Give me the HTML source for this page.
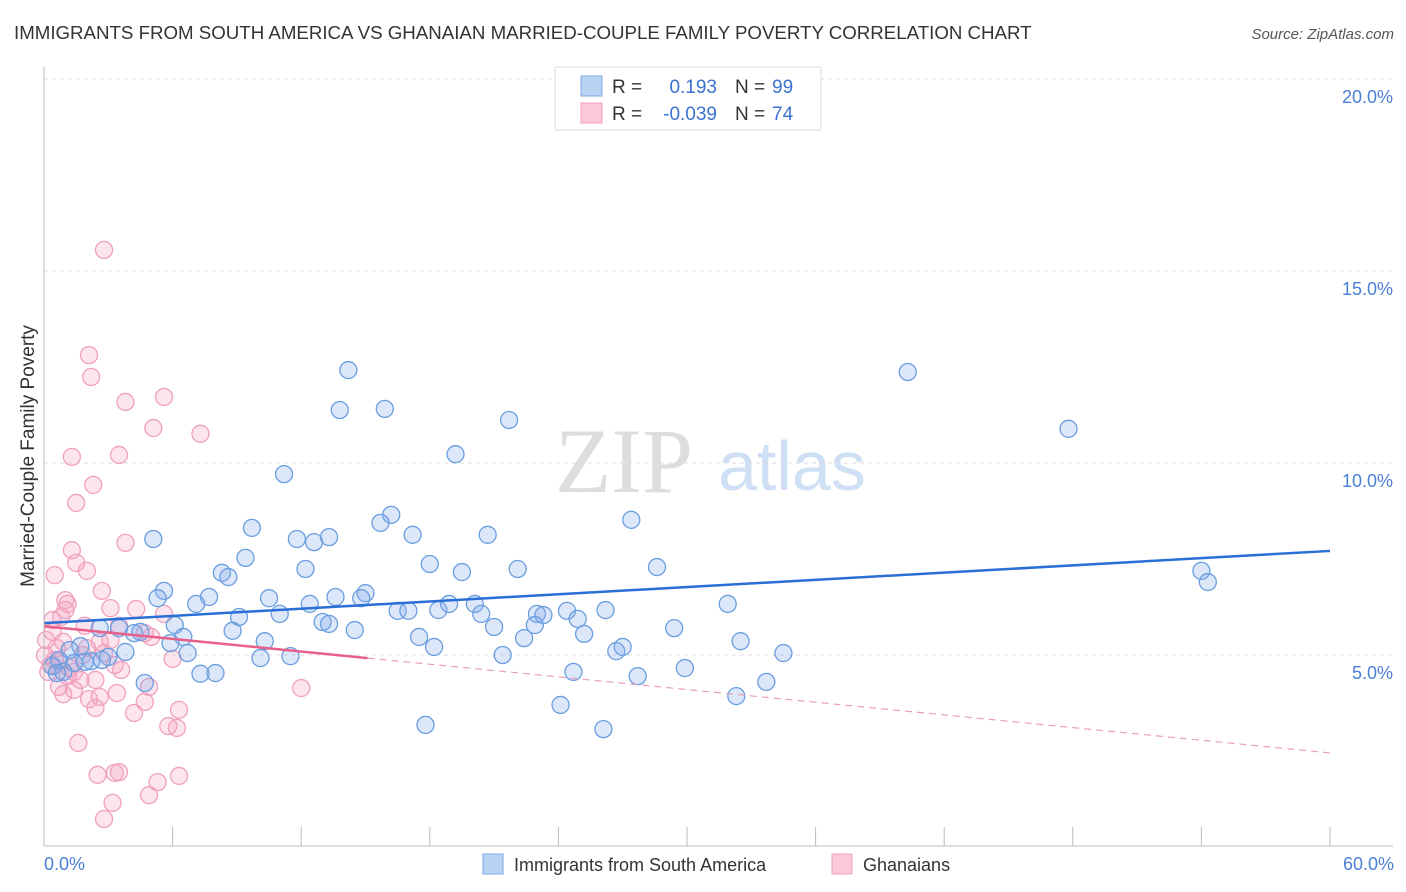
<!DOCTYPE html>
<html><head><meta charset="utf-8"><style>
body{margin:0;background:#fff;width:1406px;height:892px;overflow:hidden;font-family:"Liberation Sans",sans-serif}
</style></head><body>
<svg id="chart" width="1406" height="892" style="position:absolute;left:0;top:0;font-family:'Liberation Sans',sans-serif">
<text x="14" y="39" font-size="18.7" fill="#333">IMMIGRANTS FROM SOUTH AMERICA VS GHANAIAN MARRIED-COUPLE FAMILY POVERTY CORRELATION CHART</text>
<text x="1394" y="39" font-size="15" fill="#555" font-style="italic" text-anchor="end">Source: ZipAtlas.com</text>
<text x="0" y="0" font-size="19" fill="#333" text-anchor="middle" transform="translate(34,456) rotate(-90)">Married-Couple Family Poverty</text>
<text x="555" y="492" font-size="92" fill="#ddd" font-family="Liberation Serif,serif">ZIP</text>
<text x="718" y="490" font-size="70" fill="#cfe0f4">atlas</text>
<g id="grid"></g><g id="pts"></g><g id="lines"></g>
<line x1="44" y1="67" x2="44" y2="846" stroke="#bbb"/>
<line x1="44" y1="846" x2="1393" y2="846" stroke="#bbb"/>
<text x="44" y="870" font-size="18" fill="#4a7fd6">0.0%</text>
<text x="1394" y="870" font-size="18" fill="#4a7fd6" text-anchor="end">60.0%</text>
<g>
<rect x="555" y="67" width="266" height="63" fill="#fff" stroke="#ddd"/>
<rect x="581" y="76" width="21" height="20" fill="#b9d3f5" stroke="#80aae6"/>
<rect x="581" y="103" width="21" height="20" fill="#fbc9d9" stroke="#f0a0be"/>
<text x="612" y="93" font-size="19" fill="#333">R =</text><text x="717" y="93" font-size="19" fill="#3a72cf" text-anchor="end">0.193</text>
<text x="735" y="93" font-size="19" fill="#333">N =</text><text x="772" y="93" font-size="19" fill="#3a72cf">99</text>
<text x="612" y="120" font-size="19" fill="#333">R =</text><text x="717" y="120" font-size="19" fill="#3a72cf" text-anchor="end">-0.039</text>
<text x="735" y="120" font-size="19" fill="#333">N =</text><text x="772" y="120" font-size="19" fill="#3a72cf">74</text>
</g>
<g><rect x="483" y="854" width="20" height="20" fill="#b9d3f5" stroke="#80aae6"/><text x="514" y="871" font-size="18" fill="#333">Immigrants from South America</text></g>
<g><rect x="832" y="854" width="20" height="20" fill="#fbc9d9" stroke="#f0a0be"/><text x="863" y="871" font-size="18" fill="#333">Ghanaians</text></g>
</svg>
<script>
const yTicks=[5,10,15,20];
const xTicks=[0,6,12,18,24,30,36,42,48,54,60];
const blueX=[40.3,47.8,54.0,54.3,14.2,13.8,15.9,21.7,19.2,11.2,27.4,16.2,15.7,9.7,5.1,11.8,12.6,13.3,17.2,20.7,9.4,18.0,12.2,19.5,22.1,28.6,8.3,8.6,5.6,5.3,7.7,7.1,10.5,13.6,15.0,14.8,12.4,16.5,17.0,18.4,18.9,20.1,20.4,23.0,23.3,24.4,26.2,31.9,9.1,11.0,13.0,13.3,14.5,21.0,22.9,24.9,6.1,6.5,8.8,10.3,17.5,22.4,25.2,29.4,4.2,4.5,3.5,2.6,32.5,5.9,18.2,21.4,26.7,27.0,34.5,6.7,10.1,11.5,3.8,3.0,2.2,1.7,1.4,0.7,0.4,0.9,1.9,7.3,8.0,24.7,27.7,29.9,4.7,32.3,33.7,24.1,17.8,26.1,0.6,1.2,2.7];
const blueY=[12.37,10.89,7.19,6.90,12.42,11.38,11.41,11.12,10.23,9.71,8.52,8.65,8.44,8.31,8.02,8.02,7.94,8.07,8.13,8.13,7.53,7.37,7.24,7.16,7.24,7.29,7.14,7.03,6.67,6.48,6.51,6.33,6.48,6.51,6.61,6.48,6.33,6.15,6.15,6.17,6.33,6.33,6.07,6.07,6.04,6.15,6.17,6.33,5.99,6.07,5.86,5.81,5.65,5.73,5.78,5.94,5.78,5.47,5.63,5.36,5.47,5.44,5.55,5.70,5.57,5.60,5.70,5.70,5.36,5.31,5.21,5.00,5.10,5.21,5.05,5.05,4.92,4.97,5.08,4.95,4.84,5.23,4.79,4.87,4.71,4.56,4.82,4.51,4.53,4.56,4.45,4.66,4.27,3.93,4.30,3.70,3.18,3.07,4.53,5.13,4.87];
const pinkX=[2.8,2.1,2.2,3.8,5.6,5.1,7.3,1.3,3.5,2.3,1.5,3.8,1.3,1.5,2.0,0.5,2.7,1.1,1.0,4.3,3.1,5.6,0.8,1.9,3.5,4.7,0.4,0.9,0.6,2.6,5.0,0.1,1.8,2.8,6.0,0.7,0.3,3.3,1.1,1.7,2.4,3.6,4.9,0.7,0.2,0.9,1.4,3.4,4.7,12.0,2.1,2.6,2.4,6.3,4.2,6.2,5.8,1.6,2.5,3.5,3.3,6.3,5.3,3.2,4.9,2.8,0.5,1.2,2.0,1.4,3.1,0.05,0.4,1.0];
const pinkY=[15.55,12.81,12.24,11.59,11.72,10.91,10.76,10.16,10.21,9.43,8.96,7.92,7.73,7.40,7.19,7.08,6.67,6.33,6.17,6.20,6.22,6.07,5.99,5.76,5.76,5.57,5.60,5.34,5.18,5.34,5.47,5.39,5.00,5.05,4.90,4.84,4.74,4.74,4.45,4.35,4.35,4.61,4.17,4.17,4.56,3.98,4.09,4.01,3.78,4.14,3.85,3.91,3.62,3.57,3.49,3.10,3.15,2.71,1.88,1.95,1.93,1.85,1.69,1.15,1.35,0.73,4.87,4.66,5.18,4.56,5.39,4.99,5.91,6.43];
const blueTrend=[5.83,7.71];
const pinkTrend=[5.75,2.45];
const pinkSolidEnd=15.1;
const NS='http://www.w3.org/2000/svg';
function xs(v){return 44+v*(1286/60);}
function ys(v){return 847-v*38.4;}
function mk(t,a){const e=document.createElementNS(NS,t);for(const k in a)e.setAttribute(k,a[k]);return e;}
const grid=document.getElementById('grid');
yTicks.forEach(t=>{
 const l=mk('line',{x1:44,x2:1393,y1:ys(t),y2:ys(t),stroke:'#ddd','stroke-dasharray':'4,4'});
 
 
 grid.appendChild(l);
 const tx=mk('text',{x:1393,y:ys(t)+24,'font-size':18,fill:'#4a7fd6','text-anchor':'end'});
 tx.textContent=t.toFixed(1)+'%';
 
 
 grid.appendChild(tx);
});
xTicks.forEach(t=>{
 const l=mk('line',{x1:xs(t),x2:xs(t),y1:827,y2:846,stroke:'#bbb'});
 
 
 grid.appendChild(l);
});
const pts=document.getElementById('pts');
pinkX.forEach((x,i)=>{
 const c=mk('circle',{cx:xs(x),cy:ys(pinkY[i]),r:8.5,fill:'rgba(244,160,190,0.28)',stroke:'#f0a0be','stroke-width':1.3});
 
 
 pts.appendChild(c);
});
blueX.forEach((x,i)=>{
 const c=mk('circle',{cx:xs(x),cy:ys(blueY[i]),r:8.5,fill:'rgba(130,170,235,0.28)',stroke:'#6a9ee0','stroke-width':1.3});
 
 
 pts.appendChild(c);
});
const lines=document.getElementById('lines');
const pAt=v=>pinkTrend[0]+(pinkTrend[1]-pinkTrend[0])*v/60;
const bl=mk('line',{x1:xs(0),y1:ys(blueTrend[0]),x2:xs(60),y2:ys(blueTrend[1]),stroke:'#2a6fd6','stroke-width':2.5});


lines.appendChild(bl);
const ps=mk('line',{x1:xs(0),y1:ys(pinkTrend[0]),x2:xs(pinkSolidEnd),y2:ys(pAt(pinkSolidEnd)),stroke:'#e8608a','stroke-width':2.5});


lines.appendChild(ps);
const pd=mk('line',{x1:xs(pinkSolidEnd),y1:ys(pAt(pinkSolidEnd)),x2:xs(60),y2:ys(pinkTrend[1]),stroke:'#e8a0b8','stroke-width':1.2,'stroke-dasharray':'7,5'});


lines.appendChild(pd);
</script>
</body></html>
